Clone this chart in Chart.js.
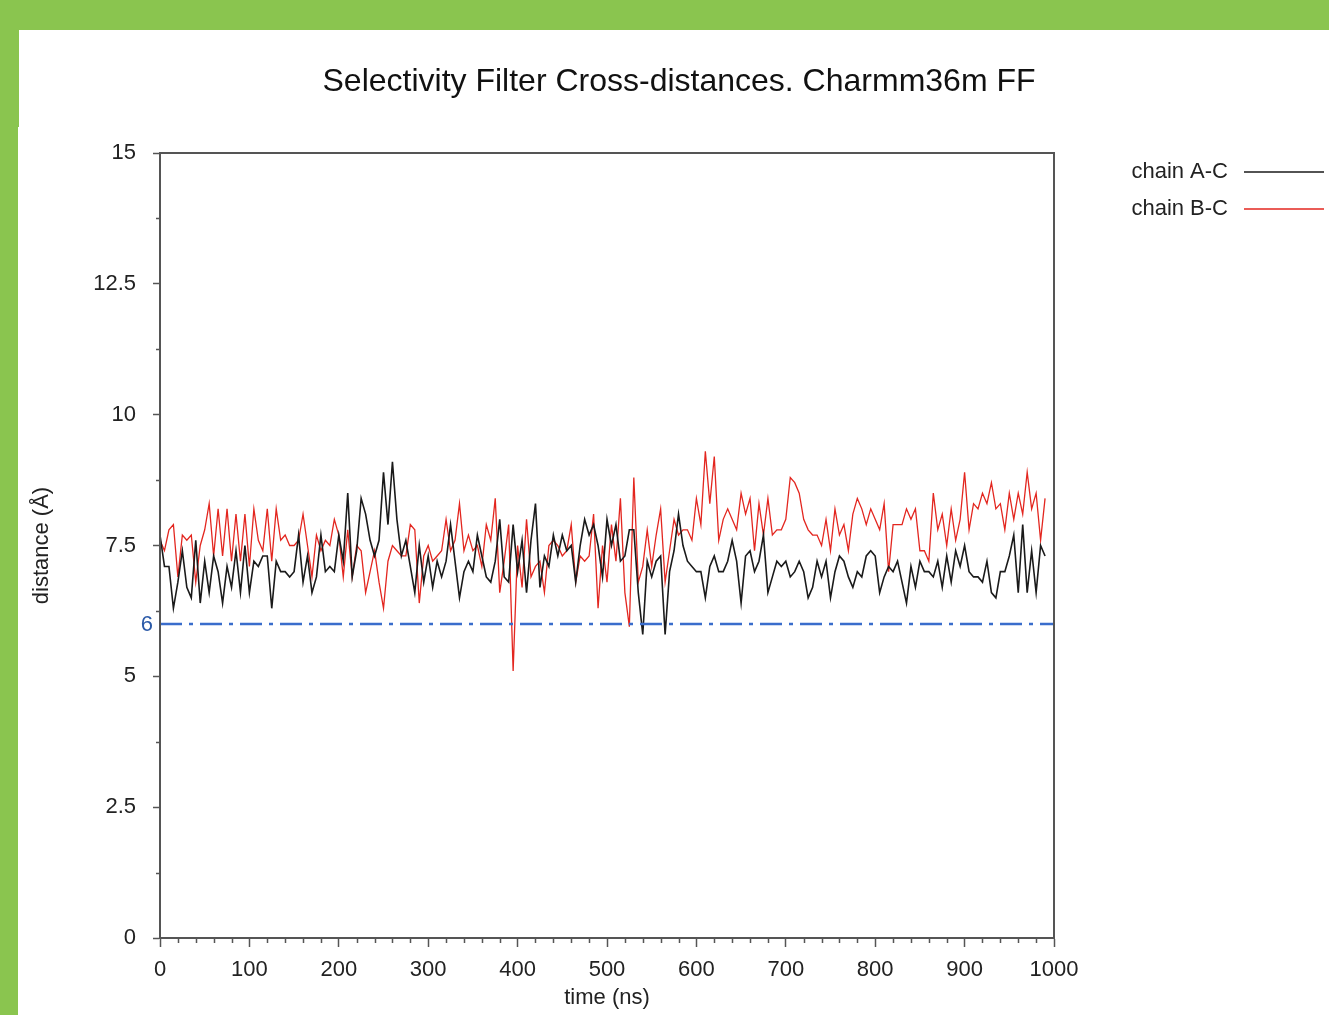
<!DOCTYPE html>
<html>
<head>
<meta charset="utf-8">
<title>Selectivity Filter Cross-distances</title>
<script src="https://cdn.jsdelivr.net/npm/chart.js@4.4.1/dist/chart.umd.min.js"></script>
<style>
    html, body { margin: 0; padding: 0; background: #fff; overflow: hidden; }
    #wrap { position: absolute; left: 0; top: 0; width: 1329px; height: 1015px; }
    .green { position: absolute; background: #8ac54f; z-index: 2; }
    #chart-title {
        position: absolute; left: 0; top: 62px; width: 1358px; text-align: center;
        font: 32px 'Liberation Sans', Arial, sans-serif; color: #111; z-index: 3;
    }
</style>
</head>
<body>
<div id="wrap"><canvas id="distChart"></canvas></div>
<div class="green" style="left:0;top:0;width:1329px;height:30px"></div>
<div class="green" style="left:0;top:30px;width:19px;height:97px"></div>
<div class="green" style="left:0;top:127px;width:18px;height:888px"></div>
<div id="chart-title">Selectivity Filter Cross-distances. Charmm36m FF</div>
<script>
// sampling step of the trajectory (ns), values read every 5 ns
var timeStep = 5;

var seriesLabels = ['chain A-C', 'chain B-C'];

// chain A-C distance (Å), t = 0 .. 990 ns
var chainAC = [
    7.7, 7.1, 7.1, 6.3, 6.8, 7.4, 6.7, 6.5, 7.6, 6.4,
    7.2, 6.6, 7.3, 7.0, 6.4, 7.1, 6.7, 7.4, 6.6, 7.5,
    6.6, 7.2, 7.1, 7.3, 7.3, 6.3, 7.2, 7.0, 7.0, 6.9,
    7.0, 7.7, 6.8, 7.3, 6.6, 6.9, 7.7, 7.0, 7.1, 7.0,
    7.7, 7.2, 8.5, 6.9, 7.4, 8.4, 8.1, 7.6, 7.3, 7.6,
    8.9, 7.9, 9.1, 8.0, 7.3, 7.6, 7.1, 6.6, 7.5, 6.8,
    7.3, 6.7, 7.2, 6.9, 7.2, 7.9, 7.2, 6.5, 7.0, 7.2,
    7.0, 7.7, 7.3, 6.9, 6.8, 7.2, 8.0, 6.9, 6.8, 7.9,
    7.0, 7.6, 6.6, 7.6, 8.3, 6.7, 7.3, 7.1, 7.7, 7.3,
    7.7, 7.4, 7.5, 6.8, 7.5, 8.0, 7.7, 7.9, 7.5, 6.9,
    8.0, 7.5, 7.9, 7.2, 7.3, 7.8, 7.8, 6.6, 5.8, 7.2,
    6.9, 7.2, 7.3, 5.8, 7.0, 7.4, 8.1, 7.5, 7.2, 7.1,
    7.0, 7.0, 6.5, 7.1, 7.3, 7.0, 7.0, 7.2, 7.6, 7.2,
    6.4, 7.3, 7.4, 7.0, 7.2, 7.7, 6.6, 6.9, 7.2, 7.1,
    7.2, 6.9, 7.0, 7.2, 7.0, 6.5, 6.7, 7.2, 6.9, 7.2,
    6.5, 7.0, 7.3, 7.2, 6.9, 6.7, 7.0, 6.9, 7.3, 7.4,
    7.3, 6.6, 6.9, 7.1, 7.0, 7.2, 6.8, 6.4, 7.1, 6.7,
    7.2, 7.0, 7.0, 6.9, 7.2, 6.7, 7.3, 6.8, 7.4, 7.1,
    7.5, 7.0, 6.9, 6.9, 6.8, 7.2, 6.6, 6.5, 7.0, 7.0,
    7.3, 7.7, 6.6, 7.9, 6.6, 7.4, 6.6, 7.5, 7.3
];

// chain B-C distance (Å), t = 0 .. 990 ns
var chainBC = [
    7.6, 7.4, 7.8, 7.9, 6.9, 7.7, 7.6, 7.7, 6.8, 7.5,
    7.8, 8.3, 7.3, 8.2, 7.3, 8.2, 7.2, 8.1, 7.2, 8.1,
    7.1, 8.2, 7.6, 7.4, 8.2, 7.2, 8.2, 7.6, 7.7, 7.5,
    7.5, 7.6, 8.1, 7.5, 6.9, 7.7, 7.4, 7.6, 7.5, 8.0,
    7.7, 6.9, 7.8, 6.9, 7.5, 7.4, 6.6, 7.0, 7.4, 6.8,
    6.3, 7.2, 7.5, 7.4, 7.3, 7.3, 7.9, 7.8, 6.4, 7.3,
    7.5, 7.2, 7.3, 7.4, 8.0, 7.4, 7.6, 8.3, 7.4, 7.7,
    7.4, 7.5, 7.1, 7.9, 7.6, 8.4, 6.6, 7.2, 7.9, 5.1,
    7.5, 6.7, 8.0, 6.9, 7.1, 7.2, 6.6, 7.5, 7.6, 7.5,
    7.3, 7.4, 7.9, 6.8, 7.3, 7.2, 7.3, 8.1, 6.3, 7.5,
    6.8, 7.9, 7.2, 8.4, 6.6, 5.95, 8.8, 6.8, 7.1, 7.8,
    7.1, 7.7, 8.2, 6.8, 7.4, 8.0, 7.7, 7.8, 7.8, 7.6,
    8.4, 7.9, 9.3, 8.3, 9.2, 7.6, 8.0, 8.2, 8.0, 7.8,
    8.5, 8.1, 8.4, 7.4, 8.3, 7.7, 8.4, 7.7, 7.8, 7.8,
    8.0, 8.8, 8.7, 8.5, 8.0, 7.8, 7.7, 7.7, 7.5, 8.0,
    7.4, 8.2, 7.7, 7.9, 7.4, 8.1, 8.4, 8.2, 7.9, 8.2,
    8.0, 7.8, 8.3, 7.0, 7.9, 7.9, 7.9, 8.2, 8.0, 8.2,
    7.4, 7.4, 7.2, 8.5, 7.8, 8.1, 7.5, 8.2, 7.6, 8.0,
    8.9, 7.8, 8.3, 8.2, 8.5, 8.3, 8.7, 8.2, 8.3, 7.8,
    8.5, 8.0, 8.5, 8.1, 8.9, 8.2, 8.5, 7.6, 8.4
];

// reference line at 6 Å
var thresholdValue = 6;
var thresholdSpan = [0, 1000];

var fontFamily = "'Liberation Sans', Arial, sans-serif";

function toPoints(values) {
    var pts = [];
    for (var i = 0; i < values.length; i++) {
        pts.push({x: i * timeStep, y: values[i]});
    }
    return pts;
}

// minor ticks, frame, the blue "6" and the legend at the right
var extrasPlugin = {
    id: 'extras',
    afterDraw: function (chart) {
        var ctx = chart.ctx;
        var area = chart.chartArea;
        var xs = chart.scales.x;
        var ys = chart.scales.y;
        ctx.save();

        ctx.strokeStyle = '#555';
        ctx.lineWidth = 1.5;
        ctx.beginPath();
        for (var v = 20; v < 1000; v += 20) {
            if (v % 100 === 0) continue;
            var px = Math.round(xs.getPixelForValue(v)) + 0.5;
            ctx.moveTo(px, area.bottom);
            ctx.lineTo(px, area.bottom + 5);
        }
        for (var w = 1.25; w < 15; w += 2.5) {
            var py = Math.round(ys.getPixelForValue(w)) + 0.5;
            ctx.moveTo(area.left, py);
            ctx.lineTo(area.left - 4, py);
        }
        ctx.stroke();

        ctx.lineWidth = 2;
        ctx.strokeRect(area.left, area.top, area.right - area.left, area.bottom - area.top);

        ctx.fillStyle = '#2b5aa8';
        ctx.font = '22px ' + fontFamily;
        ctx.textAlign = 'right';
        ctx.textBaseline = 'middle';
        ctx.fillText(String(thresholdValue), area.left - 7, ys.getPixelForValue(thresholdValue) + 1);

        var row = 0;
        chart.data.datasets.forEach(function (ds) {
            if (!ds.inLegend) return;
            var y = 172 + row * 37;
            ctx.fillStyle = '#222';
            ctx.textAlign = 'right';
            ctx.fillText(ds.label, 1228, y);
            ctx.strokeStyle = ds.borderColor;
            ctx.lineWidth = 1.5;
            ctx.beginPath();
            ctx.moveTo(1244, y);
            ctx.lineTo(1324, y);
            ctx.stroke();
            row++;
        });
        ctx.restore();
    }
};

$ = function (id) { return document.getElementById(id); };

var ctx = $('distChart').getContext('2d');
var chart = new Chart(ctx, {
    type: 'line',
    data: {
        datasets: [
            {
                label: '6',
                data: [{x: thresholdSpan[0], y: thresholdValue}, {x: thresholdSpan[1], y: thresholdValue}],
                borderColor: '#3a6dcc',
                borderWidth: 2.5,
                borderDash: [22, 7, 4, 7],
                pointRadius: 0,
                inLegend: false
            },
            {
                label: seriesLabels[0],
                data: toPoints(chainAC),
                borderColor: '#1a1a1a',
                borderWidth: 1.6,
                pointRadius: 0,
                tension: 0,
                inLegend: true
            },
            {
                label: seriesLabels[1],
                data: toPoints(chainBC),
                borderColor: '#e3261f',
                borderWidth: 1.3,
                pointRadius: 0,
                tension: 0,
                inLegend: true
            }
        ]
    },
    options: {
        responsive: true,
        maintainAspectRatio: false,
        animation: false,
        layout: {padding: {left: 20, top: 153, right: 275, bottom: 0}},
        plugins: {
            legend: {display: false},
            tooltip: {enabled: false},
            title: {display: false}
        },
        scales: {
            x: {
                type: 'linear',
                min: 0,
                max: 1000,
                afterFit: function (scale) { scale.height = 77; },
                ticks: {
                    stepSize: 100,
                    padding: 10,
                    maxRotation: 0,
                    autoSkip: false,
                    color: '#222',
                    font: {family: fontFamily, size: 22},
                    callback: function (value) { return String(value); }
                },
                grid: {drawOnChartArea: false, tickLength: 9, tickColor: '#555', tickWidth: 1.5},
                border: {color: '#555', width: 2},
                title: {
                    display: true,
                    text: 'time (ns)',
                    color: '#222',
                    font: {family: fontFamily, size: 22},
                    padding: {top: 0, bottom: 4}
                }
            },
            y: {
                min: 0,
                max: 15,
                afterFit: function (scale) { scale.width = 140; },
                ticks: {
                    stepSize: 2.5,
                    padding: 17,
                    color: '#222',
                    font: {family: fontFamily, size: 22},
                    callback: function (value) { return String(value); }
                },
                grid: {drawOnChartArea: false, tickLength: 7, tickColor: '#555', tickWidth: 1.5},
                border: {color: '#555', width: 2},
                title: {
                    display: true,
                    text: 'distance (Å)',
                    color: '#222',
                    font: {family: fontFamily, size: 22},
                    padding: {top: 9, bottom: 0}
                }
            }
        }
    },
    plugins: [extrasPlugin]
});
</script>
</body>
</html>
